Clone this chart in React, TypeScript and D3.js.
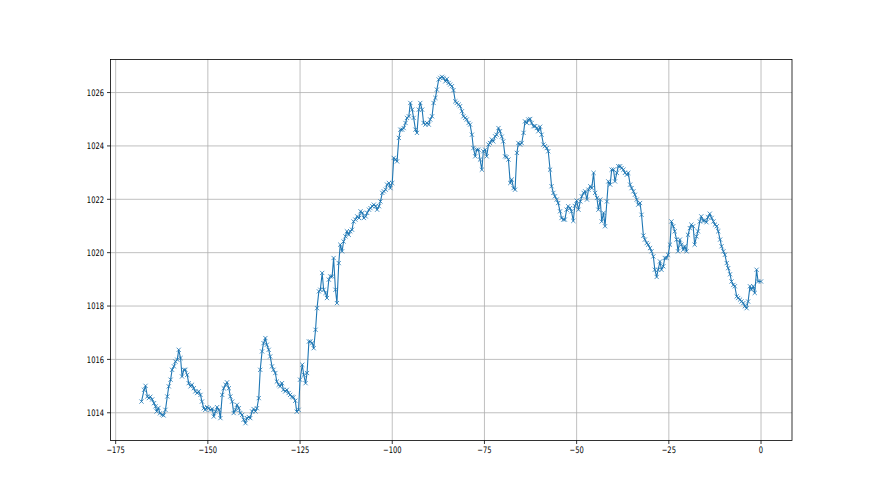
import React from "react";
import * as d3 from "d3";

const hours: number[] = [
  -168.0,-167.3,-166.9,-166.4,-166.0,-165.6,-165.1,-164.6,-164.2,-163.9,
  -163.4,-163.0,-162.4,-162.0,-161.5,-161.0,-160.6,-160.1,-159.7,-159.2,
  -158.8,-158.3,-157.9,-157.4,-157.0,-156.5,-156.1,-155.6,-155.2,-154.7,
  -154.3,-153.8,-153.4,-152.9,-152.5,-152.0,-151.6,-151.1,-150.7,-150.2,
  -149.8,
  -149.3,-148.8,-148.4,-147.9,-147.5,-147.0,-146.6,-146.1,-145.7,-145.2,
  -144.8,-144.3,-143.9,-143.4,-143.0,-142.5,-142.1,-141.6,-141.2,-140.7,
  -140.3,-139.8,-139.4,-138.9,-138.5,-138.0,-137.6,-137.1,-136.7,-136.2,
  -135.8,-135.3,-134.9,-134.4,-134.0,-133.5,-133.1,-132.6,-132.2,-131.7,
  -131.3,-130.8,-130.4,-129.9,-129.5,-129.0,-128.6,-128.1,-127.7,-127.2,
  -126.8,-126.3,-125.9,-125.4,-125.0,
  -124.4,-124.0,-123.5,-123.1,-122.6,-122.2,-121.7,-121.3,-120.8,-120.4,
  -119.9,-119.5,-119.0,-118.6,-118.1,-117.7,-117.2,-116.8,-116.3,-115.9,
  -115.4,-115.0,-114.5,-114.1,-113.6,-113.2,-112.7,-112.3,-111.8,-111.4,
  -110.9,-110.5,-110.0,-109.5,-109.0,
  -108.6,-108.1,-107.7,-107.2,-106.8,-106.3,-105.9,-105.4,-105.0,-104.5,
  -104.1,-103.6,-103.2,-102.7,-102.3,-101.8,-101.4,-100.9,-100.5,-100.0,
  -99.6,-99.1,-98.7,-98.2,-97.8,-97.3,-96.9,-96.4,-96.0,-95.5,
  -95.1,-94.6,-94.2,-93.7,-93.3,-92.8,-92.4,-91.9,-91.5,-91.0,
  -90.6,-90.1,-89.7,-89.2,-88.8,-88.3,-87.9,-87.4,-87.0,
  -86.5,-86.1,-85.6,-85.2,-84.7,-84.3,-83.8,-83.4,-82.9,-82.5,
  -82.0,-81.6,-81.1,-80.7,-80.2,-79.8,-79.3,-78.9,-78.4,-78.0,
  -77.5,-77.1,-76.6,-76.2,-75.7,-75.3,-74.8,-74.4,-73.9,-73.5,
  -73.0,-72.6,-72.1,-71.7,-71.2,-70.8,-70.3,-69.9,-69.4,-69.0,
  -68.5,-68.0,-67.6,-67.1,-66.7,-66.2,-65.8,-65.3,-64.9,-64.4,
  -64.0,-63.5,-63.1,-62.6,-62.2,-61.7,-61.3,-60.8,-60.4,-59.9,
  -59.5,-59.0,-58.6,-58.1,-57.7,-57.2,-56.8,-56.3,-55.9,-55.4,
  -55.0,-54.5,-54.1,-53.6,-53.2,-52.7,-52.3,-51.8,-51.4,-50.9,
  -50.5,-50.0,-49.5,-49.0,-48.6,-48.1,-47.7,-47.2,-46.8,-46.3,
  -45.9,-45.4,-45.0,-44.5,-44.1,-43.6,-43.2,-42.7,-42.3,-41.8,
  -41.4,-40.9,-40.5,-40.0,-39.6,-39.1,-38.7,-38.2,-37.8,-37.3,
  -36.9,-36.4,-36.0,-35.5,-35.1,-34.6,-34.2,-33.7,-33.3,-32.8,
  -32.4,-31.9,-31.5,-31.0,-30.6,-30.1,-29.7,-29.2,-28.8,-28.3,
  -27.9,-27.4,-27.0,-26.5,-26.1,-25.6,-25.2,-24.7,-24.3,-23.8,
  -23.4,-22.9,-22.5,-22.0,-21.6,-21.1,-20.7,-20.2,-19.8,-19.3,
  -18.9,-18.4,-18.0,-17.5,-17.1,-16.6,-16.2,-15.7,-15.3,-14.8,
  -14.4,-13.9,-13.4,-12.9,-12.5,-12.0,-11.6,-11.1,-10.7,-10.2,
  -9.8,-9.3,-8.9,-8.4,-8.0,-7.5,-7.1,-6.6,-6.2,-5.7,
  -5.3,-4.8,-4.4,-3.9,-3.5,-3.0,-2.6,-2.1,-1.7,-1.2,
  -0.8,0.0,
];

const pressure: number[] = [
  1014.42,1014.86,1015.01,1014.61,1014.55,1014.60,1014.50,1014.36,1014.24,1014.05,
  1014.18,1013.98,1013.93,1013.90,1014.11,1014.61,1014.99,1015.24,1015.61,1015.74,
  1015.92,1015.99,1016.36,1016.05,1015.36,1015.61,1015.61,1015.42,1015.11,1014.99,
  1015.05,1014.92,1014.80,1014.74,1014.80,1014.67,1014.42,1014.17,1014.11,1014.21,
  1014.17,
  1014.11,1014.14,1013.86,1014.05,1014.21,1014.11,1013.80,1014.67,1014.92,1015.05,
  1015.14,1014.92,1014.61,1014.42,1013.99,1014.11,1014.30,1014.17,1013.99,1013.92,
  1013.74,1013.61,1013.80,1013.84,1013.80,1014.05,1014.14,1014.05,1014.17,1014.55,
  1015.61,1016.30,1016.61,1016.80,1016.55,1016.36,1016.11,1015.74,1015.61,1015.49,
  1015.17,1015.05,1014.99,1015.11,1014.86,1014.80,1014.86,1014.74,1014.67,1014.60,
  1014.58,1014.45,1014.04,1014.11,1015.24,
  1015.80,1015.42,1015.11,1015.49,1016.67,1016.67,1016.61,1016.42,1017.11,1017.92,
  1018.55,1018.61,1019.24,1018.61,1018.49,1018.30,1018.99,1019.11,1019.11,1019.80,
  1018.61,1018.11,1019.61,1020.30,1020.05,1020.42,1020.61,1020.80,1020.67,1020.80,
  1020.86,1021.17,1021.24,1021.36,1021.30,
  1021.55,1021.49,1021.30,1021.36,1021.49,1021.61,1021.67,1021.74,1021.80,1021.74,
  1021.61,1021.74,1021.92,1022.24,1022.30,1022.36,1022.55,1022.61,1022.42,1022.61,
  1023.55,1023.49,1023.42,1024.30,1024.61,1024.61,1024.67,1024.86,1025.05,1025.11,
  1025.61,1025.36,1025.05,1024.61,1024.49,1025.36,1025.61,1025.36,1024.86,1024.80,
  1024.86,1024.80,1024.99,1025.11,1025.61,1025.80,1026.11,1026.49,1026.55,
  1026.59,1026.55,1026.42,1026.51,1026.36,1026.30,1026.24,1026.09,1025.67,1025.61,
  1025.55,1025.49,1025.30,1025.11,1025.05,1024.99,1024.86,1024.80,1024.42,1023.92,
  1023.61,1023.86,1023.86,1023.49,1023.11,1023.80,1023.86,1023.61,1024.05,1024.11,
  1024.24,1024.17,1024.36,1024.42,1024.67,1024.55,1024.35,1024.17,1023.61,1023.58,
  1023.49,1022.61,1022.74,1022.42,1022.36,1023.74,1024.11,1024.05,1024.11,1024.49,
  1024.92,1024.86,1024.99,1025.01,1024.86,1024.74,1024.74,1024.67,1024.55,1024.72,
  1024.42,1024.05,1023.99,1023.92,1023.80,1023.11,1022.49,1022.24,1022.11,1021.99,
  1021.86,1021.55,1021.30,1021.24,1021.24,1021.61,1021.74,1021.67,1021.55,1021.19,
  1021.75,1021.95,1021.61,1021.92,1022.11,1022.24,1022.30,1021.99,1022.36,1022.49,
  1022.42,1022.99,1022.24,1022.05,1021.61,1021.99,1021.17,1021.49,1020.99,1021.92,
  1022.67,1022.55,1023.11,1023.11,1022.67,1022.99,1023.24,1023.24,1023.17,1023.11,
  1022.99,1022.92,1022.99,1022.55,1022.42,1022.30,1022.17,1021.99,1021.80,1021.86,
  1021.42,1020.64,1020.49,1020.36,1020.30,1020.17,1020.05,1019.86,1019.36,1019.09,
  1019.36,1019.67,1019.36,1019.49,1019.80,1019.80,1019.92,1020.30,1021.17,1020.99,
  1020.80,1020.49,1020.05,1020.49,1020.30,1020.11,1020.24,1020.05,1020.67,1020.92,
  1021.05,1020.99,1020.30,1020.61,1020.80,1021.17,1021.36,1021.20,1021.20,1021.14,
  1021.33,1021.46,1021.30,1021.17,1021.05,1020.99,1020.80,1020.49,1020.24,1020.05,
  1019.92,1019.61,1019.42,1019.19,1018.92,1018.79,1018.74,1018.36,1018.30,1018.24,
  1018.17,1018.11,1017.99,1017.92,1018.17,1018.74,1018.61,1018.74,1018.49,1019.36,
  1018.92,1018.92,
];

const xTickValues = [-175, -150, -125, -100, -75, -50, -25, 0];
const yTickValues = [1014, 1016, 1018, 1020, 1022, 1024, 1026];

const WIDTH = 880;
const HEIGHT = 495;
const PLOT = { left: 110.5, right: 792, top: 59.5, bottom: 440.5 };
const LINE_COLOR = "#1f77b4";
const FONT = "'DejaVu Sans', sans-serif";
const FONT_SIZE = 9;
const SQUEEZE = 0.75;

function fmt(v: number): string {
  return v < 0 ? "\u2212" + String(Math.abs(v)) : String(v);
}

export default function App() {
  const [xMin, xMax] = d3.extent(hours) as [number, number];
  const [yMin, yMax] = d3.extent(pressure) as [number, number];
  const xPad = (xMax - xMin) * 0.05;
  const yPad = (yMax - yMin) * 0.05;

  const x = d3.scaleLinear().domain([xMin - xPad, xMax + xPad]).range([PLOT.left, PLOT.right]);
  const y = d3.scaleLinear().domain([yMin - yPad, yMax + yPad]).range([PLOT.bottom, PLOT.top]);

  const pts = hours.map((h, i) => [h, pressure[i]] as [number, number]);
  const linePath = d3
    .line<[number, number]>()
    .x((d) => x(d[0]))
    .y((d) => y(d[1]))(pts) as string;

  const m = 2.1;
  const markerPath = pts
    .map((d) => {
      const cx = x(d[0]);
      const cy = y(d[1]);
      return `M${cx - m},${cy - m}L${cx + m},${cy + m}M${cx - m},${cy + m}L${cx + m},${cy - m}`;
    })
    .join("");

  return (
    <div style={{ position: "absolute", left: 0, top: 0 }}>
      <svg width={WIDTH} height={HEIGHT} viewBox={`0 0 ${WIDTH} ${HEIGHT}`} style={{ display: "block", background: "#fff" }}>
        <rect x={0} y={0} width={WIDTH} height={HEIGHT} fill="#fff" />
        <defs>
          <clipPath id="plotclip">
            <rect x={PLOT.left} y={PLOT.top} width={PLOT.right - PLOT.left} height={PLOT.bottom - PLOT.top} />
          </clipPath>
        </defs>
        {/* grid */}
        <g stroke="#b0b0b0" strokeWidth={0.8} fill="none">
          {xTickValues.map((t) => (
            <line key={"gx" + t} x1={x(t)} x2={x(t)} y1={PLOT.top} y2={PLOT.bottom} />
          ))}
          {yTickValues.map((t) => (
            <line key={"gy" + t} x1={PLOT.left} x2={PLOT.right} y1={y(t)} y2={y(t)} />
          ))}
        </g>
        {/* data */}
        <g clipPath="url(#plotclip)">
          <path d={linePath} fill="none" stroke={LINE_COLOR} strokeWidth={1.1} strokeLinejoin="round" />
          <path d={markerPath} fill="none" stroke={LINE_COLOR} strokeWidth={0.8} />
        </g>
        {/* spines */}
        <rect
          x={PLOT.left}
          y={PLOT.top}
          width={PLOT.right - PLOT.left}
          height={PLOT.bottom - PLOT.top}
          fill="none"
          stroke="#000"
          strokeWidth={0.8}
        />
        {/* x ticks */}
        <g>
          {xTickValues.map((t) => (
            <g key={"xt" + t}>
              <line x1={x(t)} x2={x(t)} y1={PLOT.bottom} y2={PLOT.bottom + 3.5} stroke="#000" strokeWidth={0.8} />
              <g transform={`translate(${x(t)},${PLOT.bottom + 12.5}) scale(${SQUEEZE},1)`}>
                <text textAnchor="middle" fontFamily={FONT} fontSize={FONT_SIZE} fill="#000">
                  {fmt(t)}
                </text>
              </g>
            </g>
          ))}
        </g>
        {/* y ticks */}
        <g>
          {yTickValues.map((t) => (
            <g key={"yt" + t}>
              <line x1={PLOT.left - 3.5} x2={PLOT.left} y1={y(t)} y2={y(t)} stroke="#000" strokeWidth={0.8} />
              <g transform={`translate(${PLOT.left - 6.5},${y(t) + 3.3}) scale(${SQUEEZE},1)`}>
                <text textAnchor="end" fontFamily={FONT} fontSize={FONT_SIZE} fill="#000">
                  {fmt(t)}
                </text>
              </g>
            </g>
          ))}
        </g>
      </svg>
    </div>
  );
}
